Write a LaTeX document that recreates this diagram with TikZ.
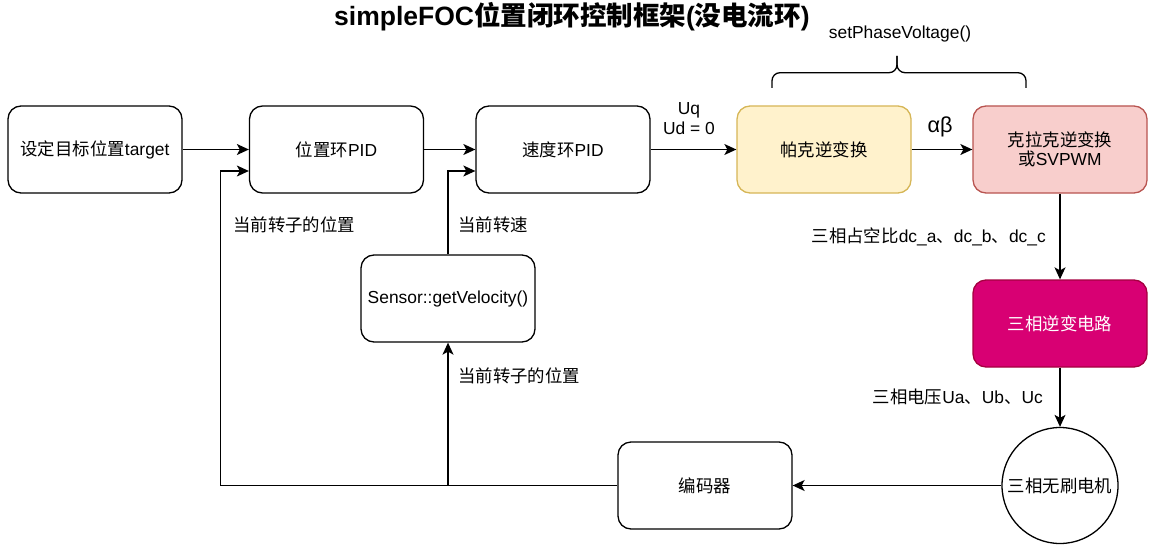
\documentclass[tikz,border=0pt]{standalone}
\usepackage{fontspec}
\setmainfont{Liberation Sans}
\newfontfamily\cjk{Noto Sans CJK SC}
\usetikzlibrary{arrows.meta,calc}
\newcommand\zh[1]{{\cjk #1}}
\newcommand\fsbody{\fontsize{17.4}{19.5}\selectfont}
\definecolor{parkfill}{HTML}{FFF2CC}
\definecolor{parkdraw}{HTML}{D6B656}
\definecolor{clarkefill}{HTML}{F8CECC}
\definecolor{clarkedraw}{HTML}{B85450}
\definecolor{invfill}{HTML}{D80073}
\definecolor{invdraw}{HTML}{A50040}
\begin{document}
\begin{tikzpicture}[x=1pt,y=-1pt,
  box/.style={draw=black, line width=1.3pt, rounded corners=13pt, minimum width=174pt, minimum height=87pt, align=center, inner sep=0pt, font=\fsbody},
  lbl/.style={inner sep=0pt, align=center, font=\fsbody},
  arr/.style={line width=1.3pt, -{Stealth[length=12pt,width=11pt,inset=3pt]}},
  wire/.style={line width=1.3pt}]
\useasboundingbox (0,0) rectangle (1174,559);
% title and brace
\node[inner sep=0pt, font=\fontsize{26.5}{30}\selectfont\bfseries] (title) at (572,17) {simpleFOC\zh{位置闭环控制框架}(\zh{没电流环})};
\node[lbl] (spv) at (900,34) {setPhaseVoltage()};
\coordinate (brtip) at (897,56);
\coordinate (brmid) at (897,72.7);
\draw[wire, rounded corners=8pt] (772,88) |- (brmid) -- (brtip);
\draw[wire, rounded corners=8pt] (1026,88) |- (brmid) -- (brtip);
% boxes
\node[box] (target) at (95,149.5) {\zh{设定目标位置}target};
\node[box] (pospid) at (336.5,149.5) {\zh{位置环}PID};
\node[box] (velpid) at (563,149.5) {\zh{速度环}PID};
\node[box, fill=parkfill, draw=parkdraw] (park) at (824,149.5) {\zh{帕克逆变换}};
\node[box, fill=clarkefill, draw=clarkedraw] (clarke) at (1060,149.5) {\zh{克拉克逆变换}\\\zh{或}SVPWM};
\node[box, fill=invfill, draw=invdraw, text=white] (inverter) at (1060,323.5) {\zh{三相逆变电路}};
\node[draw=black, line width=1.3pt, circle, minimum size=116pt, inner sep=0pt, font=\fsbody] (motor) at (1060,485.5) {\zh{三相无刷电机}};
\node[box] (encoder) at (705,485.5) {\zh{编码器}};
\node[box] (sensor) at (448,298.5) {Sensor::getVelocity()};
% forward path
\draw[arr] (target) -- (pospid);
\draw[arr] (pospid) -- (velpid);
\draw[arr] (velpid) -- (park);
\draw[arr] (park) -- (clarke);
\draw[arr] (clarke) -- (inverter);
\draw[arr] (inverter) -- (motor);
\draw[arr] (motor) -- (encoder);
% feedback
\coordinate (fbL) at (220.7,485.5);
\coordinate (fbB) at (sensor.south |- encoder.west);
\draw[arr] (encoder.west) -- (fbL) |- ($(pospid.west)+(0,21.5)$);
\draw[arr] (fbB) -- (sensor.south);
\draw[arr] (sensor.north) |- ($(velpid.west)+(0,21.5)$);
% labels
\node[lbl] (uq) at (689,118.5) {Uq\\Ud = 0};
\node[lbl, font=\fontsize{21.7}{24}\selectfont] (ab) at (940,127) {αβ};
\node[lbl, anchor=east] (dc) at (1046,237) {\zh{三相占空比}dc\_a\zh{、}dc\_b\zh{、}dc\_c};
\node[lbl, anchor=east] (uabc) at (1043,397) {\zh{三相电压}Ua\zh{、}Ub\zh{、}Uc};
\node[lbl, anchor=west] (pos1) at (233,225) {\zh{当前转子的位置}};
\node[lbl, anchor=west] (vel) at (458,225) {\zh{当前转速}};
\node[lbl, anchor=west] (pos2) at (458,375.5) {\zh{当前转子的位置}};
\end{tikzpicture}
\end{document}
